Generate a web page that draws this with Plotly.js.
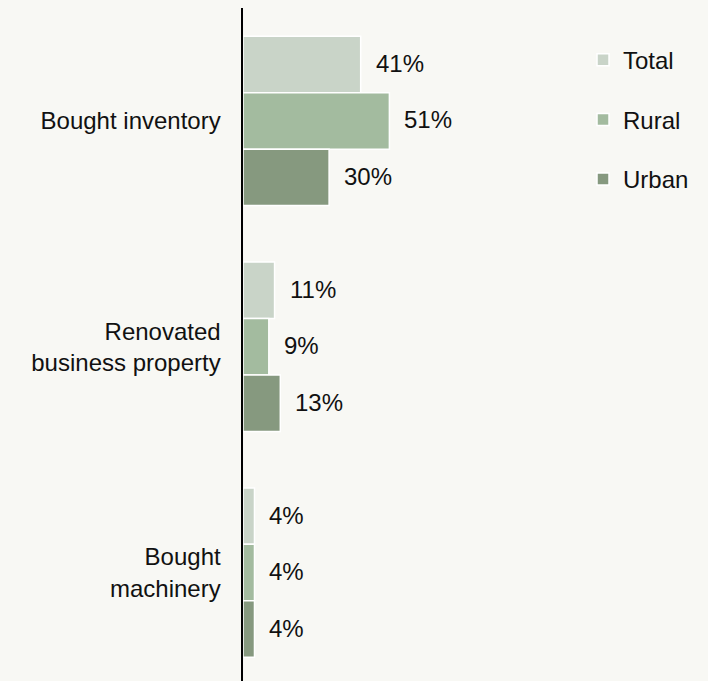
<!DOCTYPE html>
<html>
<head>
<meta charset="utf-8">
<script src="https://cdn.plot.ly/plotly-3.0.1.min.js"></script>
<style>
  html, body { margin: 0; padding: 0; background: #f8f8f4; }
  #chart { width: 708px; height: 681px; }
</style>
</head>
<body>
<div id="chart"></div>
<script>
const categories = ["Bought inventory", "Renovated<br>business property", "Bought<br>machinery"];
const seriesNames = ["Total", "Rural", "Urban"];
const totalValues = [41, 11, 4];
const ruralValues = [51, 9, 4];
const urbanValues = [30, 13, 4];
const seriesColors = ["#c9d4c8", "#a3bb9f", "#86997f"];

const seriesValues = [totalValues, ruralValues, urbanValues];
const fontFamily = '"Liberation Sans", Arial, Helvetica, sans-serif';
const fontSize = 24;

const traces = seriesValues.map((vals, i) => ({
  type: "bar",
  orientation: "h",
  name: seriesNames[i],
  legendgroup: seriesNames[i],
  y: categories,
  x: vals,
  marker: { color: seriesColors[i], line: { color: "#ffffff", width: 1.5 } },
  hoverinfo: "skip"
}));

const bargap = 0.25;
const barW = (1 - bargap) / seriesValues.length;
const annotations = [];
seriesValues.forEach((vals, i) => {
  vals.forEach((v, j) => {
    annotations.push({
      x: v,
      y: j + (i - 1) * barW,
      xref: "x",
      yref: "y",
      text: v + "%",
      showarrow: false,
      xanchor: "left",
      yanchor: "middle",
      xshift: 13,
      yshift: 1,
      font: { family: fontFamily, size: fontSize, color: "#111111" }
    });
  });
});

const layout = {
  width: 708,
  height: 681,
  margin: { l: 243, r: 0, t: 8, b: 0 },
  paper_bgcolor: "#f8f8f4",
  plot_bgcolor: "#f8f8f4",
  barmode: "group",
  bargap: bargap,
  bargroupgap: 0,
  showlegend: true,
  legend: {
    x: 0.7312,
    xanchor: "left",
    y: 0.956,
    yanchor: "top",
    traceorder: "grouped",
    tracegroupgap: 25.5,
    bgcolor: "rgba(0,0,0,0)",
    font: { family: fontFamily, size: fontSize, color: "#111111" }
  },
  xaxis: {
    range: [0, 162],
    showgrid: false,
    zeroline: false,
    showticklabels: false,
    showline: false,
    fixedrange: true
  },
  yaxis: {
    type: "category",
    range: [2.48, -0.5],
    showgrid: false,
    zeroline: false,
    showline: true,
    linecolor: "#000000",
    linewidth: 2.5,
    ticks: "",
    ticklabelstandoff: 15,
    tickfont: { family: fontFamily, size: fontSize, color: "#111111" },
    fixedrange: true
  },
  annotations: annotations,
  font: { family: fontFamily, color: "#111111" }
};

Plotly.newPlot("chart", traces, layout, { displayModeBar: false, staticPlot: true });
</script>
</body>
</html>
